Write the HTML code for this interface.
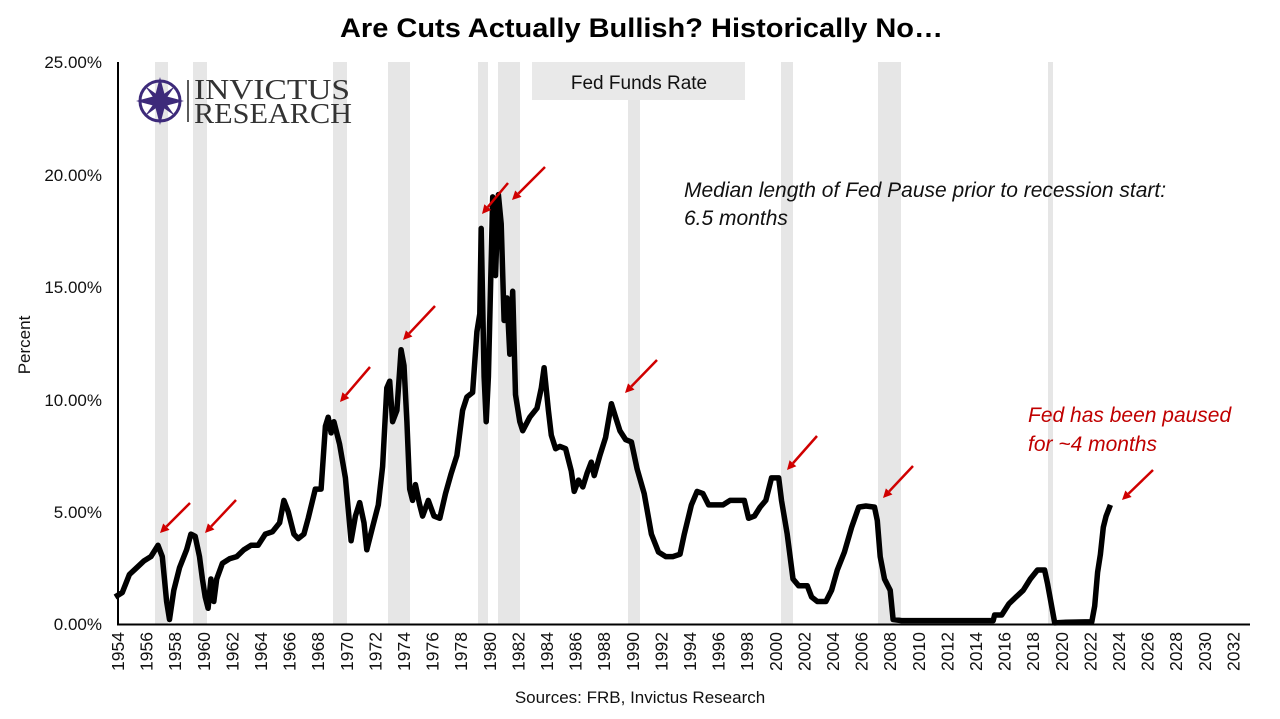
<!DOCTYPE html>
<html><head><meta charset="utf-8"><style>
html,body{margin:0;padding:0;background:#fff;}
svg{display:block;font-family:"Liberation Sans",Arial,sans-serif;}
</style></head><body>
<svg id="s" width="1280" height="719" viewBox="0 0 1280 719">
<g id="bands" fill="#e6e6e6"></g>
<rect x="532" y="62" width="213" height="38" fill="#e9e9e9"/>
<text x="639" y="89" font-size="19" text-anchor="middle" fill="#111">Fed Funds Rate</text>
<text x="340" y="37" font-size="27" font-weight="bold" fill="#000" textLength="603" lengthAdjust="spacingAndGlyphs">Are Cuts Actually Bullish? Historically No…</text>
<g font-size="17" text-anchor="end" fill="#111">
<text x="102" y="68">25.00%</text><text x="102" y="181">20.00%</text><text x="102" y="293">15.00%</text>
<text x="102" y="406">10.00%</text><text x="102" y="518">5.00%</text><text x="102" y="630">0.00%</text>
</g>
<text transform="translate(30,345) rotate(-90)" font-size="17" text-anchor="middle" fill="#111">Percent</text>
<g id="xl" font-size="17.5" fill="#111"></g>
<text x="640" y="703" font-size="17" text-anchor="middle" fill="#111">Sources: FRB, Invictus Research</text>
<line x1="118" y1="62" x2="118" y2="625" stroke="#000" stroke-width="2"/>
<line x1="117" y1="624.5" x2="1250" y2="624.5" stroke="#000" stroke-width="2"/>
<g transform="translate(160,101)">
<circle r="20" fill="none" stroke="#3d2a7a" stroke-width="3"/>
<polygon points="0,-24 5,-5 24,0 5,5 0,24 -5,5 -24,0 -5,-5" fill="#3d2a7a"/>
<polygon points="-15,-15 2,-3 15,15 -2,3" fill="#3d2a7a"/>
<polygon points="15,-15 3,2 -15,15 -3,-2" fill="#3d2a7a"/>
</g>
<line x1="188" y1="80" x2="188" y2="122" stroke="#222" stroke-width="1.5"/>
<text x="194" y="99" font-family="Liberation Serif,serif" font-size="29" fill="#333" textLength="156" lengthAdjust="spacingAndGlyphs">INVICTUS</text>
<text x="194" y="123" font-family="Liberation Serif,serif" font-size="29" fill="#333" textLength="158" lengthAdjust="spacingAndGlyphs">RESEARCH</text>
<text x="684" y="197" font-size="21" font-style="italic" fill="#111">Median length of Fed Pause prior to recession start:</text>
<text x="684" y="225" font-size="21" font-style="italic" fill="#111">6.5 months</text>
<text x="1028" y="422" font-size="21" font-style="italic" fill="#c00000">Fed has been paused</text>
<text x="1028" y="451" font-size="21" font-style="italic" fill="#c00000">for ~4 months</text>
<path id="line" fill="none" stroke="#000" stroke-width="5.5" stroke-linejoin="round"/>
<g id="arr" stroke="#d00000" stroke-width="2.5" fill="#d00000"></g>
</svg>
<script>
var NS="http://www.w3.org/2000/svg";
function X(y){return 118+(y-1954)*14.3;}
function el(t,a,p){var e=document.createElementNS(NS,t);for(var k in a)e.setAttribute(k,a[k]);p.appendChild(e);return e;}
var bands=[[155,168],[193,207],[333,347],[388,410],[478,488],[498,520],[628,640],[781,793],[878,901],[1048,1053]];
var b=document.getElementById('bands');
bands.forEach(function(r){el('rect',{x:r[0],y:62,width:r[1]-r[0],height:562},b);});
var xl=document.getElementById('xl');
for(var y=1954;y<=2032;y+=2){var t=el('text',{transform:'translate('+(X(y)+6)+',671) rotate(-90)'},xl);t.textContent=y;}
var d=[1954.5,1.2,1955,1.4,1955.5,2.2,1956,2.5,1956.5,2.8,1957,3.0,1957.5,3.5,1957.8,3.0,1958.1,1.0,1958.3,0.2,1958.6,1.5,1959,2.5,1959.5,3.3,1959.8,4.0,1960.1,3.9,1960.4,3.0,1960.6,2.0,1960.8,1.2,1961,0.7,1961.2,2.0,1961.4,1.0,1961.6,2.0,1962,2.7,1962.5,2.9,1963,3.0,1963.5,3.3,1964,3.5,1964.5,3.5,1965,4.0,1965.5,4.1,1966,4.5,1966.3,5.5,1966.6,5.0,1967,4.0,1967.3,3.8,1967.7,4.0,1968,4.7,1968.5,6.0,1968.9,6.0,1969.2,8.8,1969.4,9.2,1969.6,8.5,1969.8,9.0,1970.2,8.0,1970.6,6.5,1971,3.7,1971.3,4.8,1971.6,5.4,1971.9,4.5,1972.1,3.3,1972.5,4.3,1972.9,5.3,1973.2,7.0,1973.5,10.5,1973.7,10.8,1973.9,9.0,1974.2,9.5,1974.5,12.2,1974.7,11.5,1974.9,9.0,1975.1,6.0,1975.3,5.5,1975.5,6.2,1975.8,5.3,1976,4.8,1976.4,5.5,1976.8,4.8,1977.2,4.7,1977.6,5.8,1978,6.7,1978.4,7.5,1978.8,9.5,1979.1,10.1,1979.5,10.3,1979.8,13.0,1980.0,13.8,1980.1,17.6,1980.3,11.0,1980.45,9.0,1980.6,11.0,1980.9,19.0,1981.1,15.5,1981.3,19.1,1981.5,17.8,1981.7,13.5,1981.9,14.5,1982.1,12.0,1982.3,14.8,1982.5,10.2,1982.8,9.0,1983,8.6,1983.5,9.2,1984,9.6,1984.3,10.5,1984.5,11.4,1984.8,9.5,1985,8.4,1985.3,7.8,1985.6,7.9,1986,7.8,1986.4,6.8,1986.6,5.9,1986.9,6.4,1987.2,6.1,1987.5,6.7,1987.8,7.2,1988,6.6,1988.4,7.5,1988.8,8.3,1989.2,9.8,1989.5,9.2,1989.8,8.6,1990.2,8.2,1990.6,8.1,1991,6.9,1991.5,5.8,1992,4.0,1992.5,3.2,1993,3.0,1993.5,3.0,1994,3.1,1994.3,4.0,1994.8,5.3,1995.2,5.9,1995.6,5.8,1996,5.3,1996.5,5.3,1997,5.3,1997.5,5.5,1998,5.5,1998.5,5.5,1998.8,4.7,1999.2,4.8,1999.6,5.2,2000,5.5,2000.4,6.5,2000.9,6.5,2001.1,5.5,2001.5,4.0,2001.9,2.0,2002.3,1.7,2002.9,1.7,2003.2,1.2,2003.6,1.0,2004.2,1.0,2004.6,1.5,2005,2.4,2005.5,3.2,2006,4.3,2006.5,5.2,2007,5.25,2007.6,5.2,2007.8,4.6,2008,3.0,2008.3,2.0,2008.7,1.5,2008.9,0.2,2009.5,0.15,2010,0.15,2015.9,0.15,2016,0.4,2016.5,0.4,2017,0.9,2017.5,1.2,2018,1.5,2018.5,2.0,2019,2.4,2019.5,2.4,2019.7,1.8,2020.2,0.05,2021,0.08,2022.8,0.1,2023.0,0.8,2023.2,2.3,2023.4,3.1,2023.6,4.3,2023.8,4.8,2024.1,5.3];
var p='';for(var i=0;i<d.length;i+=2){p+=(i?'L':'M')+X(d[i]-0.7).toFixed(1)+','+(624-d[i+1]*22.48).toFixed(1);}
document.getElementById('line').setAttribute('d',p);
var A=[[190,503,160,533],[236,500,205,533],[370,367,340,402],[435,306,403,340],[508,183,482,214],[545,167,512,200],[657,360,625,393],[817,436,787,470],[913,466,883,498],[1153,470,1122,500]];
var g=document.getElementById('arr');
A.forEach(function(a){var dx=a[2]-a[0],dy=a[3]-a[1],L=Math.hypot(dx,dy),ux=dx/L,uy=dy/L;
var bx=a[2]-ux*9,by=a[3]-uy*9;
el('line',{x1:a[0],y1:a[1],x2:bx,y2:by},g);
el('polygon',{points:a[2]+','+a[3]+' '+(bx-uy*4.5)+','+(by+ux*4.5)+' '+(bx+uy*4.5)+','+(by-ux*4.5),stroke:'none'},g);});
</script>
</body></html>
